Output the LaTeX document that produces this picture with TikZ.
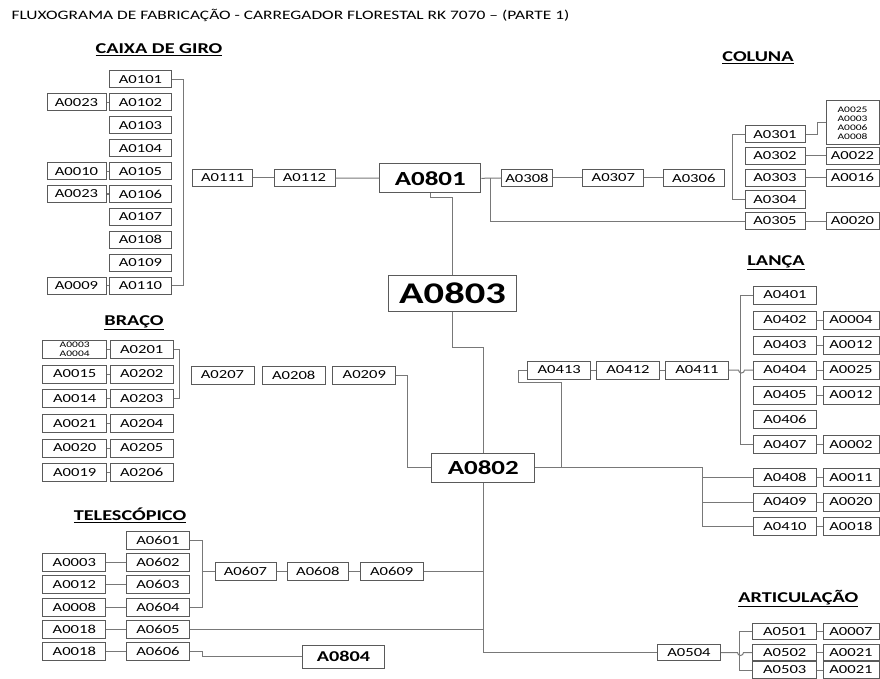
\documentclass[tikz,border=0pt]{standalone}
\usepackage{fontspec}
\setmainfont{Carlito}[FakeStretch=1.35]
\usetikzlibrary{positioning}
\definecolor{linegray}{RGB}{120,120,120}
\definecolor{boxgray}{RGB}{90,90,90}

\begin{document}
\begin{tikzpicture}[x=1pt, y=-1pt, auto]
    % Define styles
    \tikzstyle{part} = [rectangle, draw=boxgray, line width=1pt, minimum width=62pt, minimum height=17pt, inner sep=0pt, text centered, font=\fontsize{12.3}{13}\selectfont]
    \tikzstyle{small} = [part, align=center, font=\fontsize{8.5}{9}\selectfont]
    \tikzstyle{assembly} = [rectangle, draw=boxgray, line width=1.1pt, minimum width=101pt, minimum height=29pt, inner sep=0pt, text centered, font=\bfseries\fontsize{20}{21}\selectfont]
    \tikzstyle{group} = [font=\bfseries\fontsize{15}{16}\selectfont]
    \tikzstyle{link} = [draw=linegray, line width=1pt]

    \useasboundingbox (0,0) rectangle (880,679);

    % Title
    \node [anchor=west, font=\fontsize{12.9}{14}\selectfont] (title) at (8,15) {FLUXOGRAMA DE FABRICAÇÃO - CARREGADOR FLORESTAL RK 7070 – (PARTE 1)};

    % Caixa de giro
    \node [group] (giro) at (159,50) {\underline{CAIXA DE GIRO}};
    \node [part] (a0101) at (140.5,79.5) {A0101};
    \node [part] (a0102) at (140.5,102.4) {A0102};
    \node [part] (a0103) at (140.5,125.3) {A0103};
    \node [part] (a0104) at (140.5,148.2) {A0104};
    \node [part] (a0105) at (140.5,171.1) {A0105};
    \node [part] (a0106) at (140.5,194) {A0106};
    \node [part] (a0107) at (140.5,216.9) {A0107};
    \node [part] (a0108) at (140.5,239.8) {A0108};
    \node [part] (a0109) at (140.5,262.7) {A0109};
    \node [part] (a0110) at (140.5,285.6) {A0110};
    \node [part, minimum width=59pt] (p0102) at (76.5,102.4) {A0023};
    \node [part, minimum width=59pt] (p0105) at (76.5,171.1) {A0010};
    \node [part, minimum width=59pt] (p0106) at (76.5,194) {A0023};
    \node [part, minimum width=59pt] (p0110) at (76.5,285.6) {A0009};
    \node [part, minimum width=60pt] (a0111) at (222.7,178) {A0111};
    \node [part, minimum width=61pt] (a0112) at (304.5,178) {A0112};

    % Main assemblies
    \node [assembly] (a0801) at (430.3,178.3) {A0801};
    \node [assembly, minimum width=128pt, minimum height=36pt, font=\bfseries\fontsize{30}{31}\selectfont] (a0803) at (452.5,293.7) {A0803};
    \node [assembly, minimum width=103pt] (a0802) at (483.3,467.8) {A0802};
    \node [assembly, minimum width=82pt, minimum height=23pt, font=\bfseries\fontsize{15}{16}\selectfont] (a0804) at (343.5,656.7) {A0804};

    % Coluna
    \node [group] (coluna) at (758,58) {\underline{COLUNA}};
    \node [part, minimum width=51pt] (a0308) at (527,178) {A0308};
    \node [part, minimum width=61pt] (a0307) at (613.3,178) {A0307};
    \node [part, minimum width=61pt] (a0306) at (693.8,178) {A0306};
    \node [part, minimum width=60pt] (a0301) at (775,134.3) {A0301};
    \node [part, minimum width=60pt] (a0302) at (775,156) {A0302};
    \node [part, minimum width=60pt] (a0303) at (775,177.7) {A0303};
    \node [part, minimum width=60pt] (a0304) at (775,199.5) {A0304};
    \node [part, minimum width=60pt] (a0305) at (775,221) {A0305};
    \node [small, minimum width=53pt, minimum height=44pt] (r0301) at (852.5,123) {A0025\\A0003\\A0006\\A0008};
    \node [part, minimum width=53pt] (r0302) at (852.5,156) {A0022};
    \node [part, minimum width=53pt] (r0303) at (852.5,177.7) {A0016};
    \node [part, minimum width=53pt] (r0305) at (852.5,221) {A0020};

    % Braco
    \node [group] (braco) at (134,322.7) {\underline{BRAÇO}};
    \node [part, minimum width=63pt, minimum height=18pt] (a0201) at (141.7,349.3) {A0201};
    \node [part, minimum width=63pt, minimum height=18pt] (a0202) at (141.7,374) {A0202};
    \node [part, minimum width=63pt, minimum height=18pt] (a0203) at (141.7,398.7) {A0203};
    \node [part, minimum width=63pt, minimum height=18pt] (a0204) at (141.7,423.3) {A0204};
    \node [part, minimum width=63pt, minimum height=18pt] (a0205) at (141.7,448) {A0205};
    \node [part, minimum width=63pt, minimum height=18pt] (a0206) at (141.7,472.7) {A0206};
    \node [small, minimum width=64pt, minimum height=18pt] (p0201) at (74.7,349.3) {A0003\\A0004};
    \node [part, minimum width=64pt, minimum height=18pt] (p0202) at (74.7,374) {A0015};
    \node [part, minimum width=64pt, minimum height=18pt] (p0203) at (74.7,398.7) {A0014};
    \node [part, minimum width=64pt, minimum height=18pt] (p0204) at (74.7,423.3) {A0021};
    \node [part, minimum width=64pt, minimum height=18pt] (p0205) at (74.7,448) {A0020};
    \node [part, minimum width=64pt, minimum height=18pt] (p0206) at (74.7,472.7) {A0019};
    \node [part, minimum width=63pt, minimum height=18pt] (a0207) at (222.5,375) {A0207};
    \node [part, minimum width=63pt, minimum height=18pt] (a0208) at (293.7,375) {A0208};
    \node [part, minimum width=63pt, minimum height=18pt] (a0209) at (364.3,375) {A0209};

    % Lanca
    \node [group] (lanca) at (776,262.7) {\underline{LANÇA}};
    \node [part, minimum width=63pt, minimum height=18pt] (a0413) at (559.2,370) {A0413};
    \node [part, minimum width=63pt, minimum height=18pt] (a0412) at (628,370) {A0412};
    \node [part, minimum width=63pt, minimum height=18pt] (a0411) at (697,370) {A0411};
    \node [part, minimum width=63pt, minimum height=18pt] (a0401) at (785,295) {A0401};
    \node [part, minimum width=63pt, minimum height=18pt] (a0402) at (785,320) {A0402};
    \node [part, minimum width=63pt, minimum height=18pt] (a0403) at (785,345) {A0403};
    \node [part, minimum width=63pt, minimum height=18pt] (a0404) at (785,370) {A0404};
    \node [part, minimum width=63pt, minimum height=18pt] (a0405) at (785,395) {A0405};
    \node [part, minimum width=63pt, minimum height=18pt] (a0406) at (785,419.5) {A0406};
    \node [part, minimum width=63pt, minimum height=18pt] (a0407) at (785,444.5) {A0407};
    \node [part, minimum width=63pt, minimum height=18pt] (a0408) at (785,477.3) {A0408};
    \node [part, minimum width=63pt, minimum height=18pt] (a0409) at (785,502) {A0409};
    \node [part, minimum width=63pt, minimum height=18pt] (a0410) at (785,526.7) {A0410};
    \node [part, minimum width=56pt, minimum height=18pt] (r0402) at (851,320) {A0004};
    \node [part, minimum width=56pt, minimum height=18pt] (r0403) at (851,345) {A0012};
    \node [part, minimum width=56pt, minimum height=18pt] (r0404) at (851,370) {A0025};
    \node [part, minimum width=56pt, minimum height=18pt] (r0405) at (851,395) {A0012};
    \node [part, minimum width=56pt, minimum height=18pt] (r0407) at (851,444.5) {A0002};
    \node [part, minimum width=56pt, minimum height=18pt] (r0408) at (851,477.3) {A0011};
    \node [part, minimum width=56pt, minimum height=18pt] (r0409) at (851,502) {A0020};
    \node [part, minimum width=56pt, minimum height=18pt] (r0410) at (851,526.7) {A0018};

    % Telescopico
    \node [group] (telescopico) at (130,515) {\underline{TELESCÓPICO}};
    \node [part, minimum width=63pt, minimum height=18pt] (a0601) at (158,540.7) {A0601};
    \node [part, minimum width=63pt, minimum height=18pt] (a0602) at (158,562.7) {A0602};
    \node [part, minimum width=63pt, minimum height=18pt] (a0603) at (158,584.7) {A0603};
    \node [part, minimum width=63pt, minimum height=18pt] (a0604) at (158,607) {A0604};
    \node [part, minimum width=63pt, minimum height=18pt] (a0605) at (158,629.3) {A0605};
    \node [part, minimum width=63pt, minimum height=18pt] (a0606) at (158,651.7) {A0606};
    \node [part, minimum width=63pt, minimum height=18pt] (p0602) at (74.3,562.7) {A0003};
    \node [part, minimum width=63pt, minimum height=18pt] (p0603) at (74.3,584.7) {A0012};
    \node [part, minimum width=63pt, minimum height=18pt] (p0604) at (74.3,607) {A0008};
    \node [part, minimum width=63pt, minimum height=18pt] (p0605) at (74.3,629.3) {A0018};
    \node [part, minimum width=63pt, minimum height=18pt] (p0606) at (74.3,651.7) {A0018};
    \node [part, minimum width=61pt, minimum height=18pt] (a0607) at (245.5,571) {A0607};
    \node [part, minimum width=61pt, minimum height=18pt] (a0608) at (317.8,571) {A0608};
    \node [part, minimum width=63pt, minimum height=18pt] (a0609) at (391.7,571) {A0609};

    % Articulacao
    \node [group] (articulacao) at (798.3,598.3) {\underline{ARTICULAÇÃO}};
    \node [part, minimum width=63pt, minimum height=16.5pt] (a0504) at (689,652.5) {A0504};
    \node [part, minimum width=64pt, minimum height=16.5pt] (a0501) at (784.7,631.7) {A0501};
    \node [part, minimum width=64pt, minimum height=16.5pt] (a0502) at (784.7,652.5) {A0502};
    \node [part, minimum width=64pt, minimum height=16.5pt] (a0503) at (784.7,670) {A0503};
    \node [part, minimum width=56pt, minimum height=16.5pt] (r0501) at (851,631.7) {A0007};
    \node [part, minimum width=56pt, minimum height=16.5pt] (r0502) at (851,652.5) {A0021};
    \node [part, minimum width=56pt, minimum height=16.5pt] (r0503) at (851,670) {A0021};

    % Junctions
    \coordinate (j0801) at (490,178);
    \coordinate (j0413) at (561.7,467.8);
    \coordinate (j0408) at (702.7,467.8);
    \coordinate (j0607) at (201.7,571);

    % Lines: caixa de giro
    \draw [link] (p0102) -- (a0102);
    \draw [link] (p0105) -- (a0105);
    \draw [link] (p0106) -- (a0106);
    \draw [link] (p0110) -- (a0110);
    \draw [link] (a0101.east) -- ++(11,0) |- (a0110.east);
    \draw [link] (a0111) -- (a0112);
    \draw [link] (a0112) -- (a0801);

    % Lines: main assemblies
    \draw [link] (a0801.south) -- ++(0,4.5) -| (a0803.north);
    \draw [link] (a0803.south) -- ++(0,35) -| (a0802.north);

    % Lines: coluna
    \draw [link] (a0801.east) -- (a0308.west);
    \draw [link] (j0801) |- (a0305.west);
    \draw [link] (a0308) -- (a0307);
    \draw [link] (a0307) -- (a0306);
    \draw [link] (a0301.west) -- ++(-11.7,0) |- (a0304.west);
    \draw [link] (a0301.east) -- ++(11.7,0) |- (r0301.west);
    \draw [link] (a0302) -- (r0302);
    \draw [link] (a0303) -- (r0303);
    \draw [link] (a0305) -- (r0305);

    % Lines: braco
    \draw [link] (p0201) -- (a0201);
    \draw [link] (p0202) -- (a0202);
    \draw [link] (p0203) -- (a0203);
    \draw [link] (p0204) -- (a0204);
    \draw [link] (p0205) -- (a0205);
    \draw [link] (p0206) -- (a0206);
    \draw [link] (a0201.east) -- ++(6,0) |- (a0203.east);
    \draw [link] (a0209.east) -- ++(11.5,0) |- (a0802.west);

    % Lines: lanca
    \draw [link] (a0413) -- (a0412);
    \draw [link] (a0412) -- (a0411);
    \draw [link] (a0411.east) -- ++(9.5,0) arc[start angle=180, end angle=0, radius=3] -- (a0404.west);
    \draw [link] (a0401.west) -- ++(-12.5,0) |- (a0407.west);
    \draw [link] (a0413.west) -- ++(-8.4,0) -- ++(0,12.7) -| (j0413);
    \draw [link] (a0802.east) -- (j0408) |- (a0410.west);
    \draw [link] (j0408 |- a0408.west) -- (a0408.west);
    \draw [link] (j0408 |- a0409.west) -- (a0409.west);
    \draw [link] (a0402) -- (r0402);
    \draw [link] (a0403) -- (r0403);
    \draw [link] (a0404) -- (r0404);
    \draw [link] (a0405) -- (r0405);
    \draw [link] (a0407) -- (r0407);
    \draw [link] (a0408) -- (r0408);
    \draw [link] (a0409) -- (r0409);
    \draw [link] (a0410) -- (r0410);

    % Lines: telescopico
    \draw [link] (p0602) -- (a0602);
    \draw [link] (p0603) -- (a0603);
    \draw [link] (p0604) -- (a0604);
    \draw [link] (p0605) -- (a0605);
    \draw [link] (p0606) -- (a0606);
    \draw [link] (a0601.east) -- ++(12.2,0) |- (a0604.east);
    \draw [link] (j0607) -- (a0607.west);
    \draw [link] (a0607) -- (a0608);
    \draw [link] (a0608) -- (a0609);
    \draw [link] (a0609.east) -- (a0609.east -| a0802.south);
    \draw [link] (a0605.east) -- (a0605.east -| a0802.south);
    \draw [link] (a0606.east) -- ++(12.2,0) |- (a0804.west);

    % Lines: articulacao
    \draw [link] (a0802.south) |- (a0504.west);
    \draw [link] (a0504.east) -- ++(16.5,0) arc[start angle=180, end angle=0, radius=3] -- (a0502.west);
    \draw [link] (a0501.west) -- ++(-12.7,0) |- (a0503.west);
    \draw [link] (a0501) -- (r0501);
    \draw [link] (a0502) -- (r0502);
    \draw [link] (a0503) -- (r0503);
\end{tikzpicture}
\end{document}
